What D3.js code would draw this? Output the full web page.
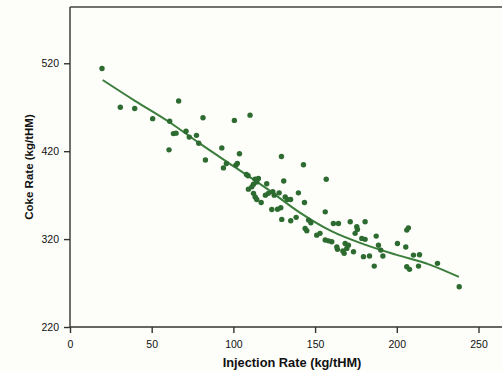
<!DOCTYPE html>
<html>
<head>
<meta charset="utf-8">
<script src="https://cdn.jsdelivr.net/npm/d3@7"></script>
<style>
  body { margin: 0; background: #fdfdf9; }
  svg { display: block; font-family: "Liberation Sans", Arial, sans-serif; }
</style>
</head>
<body>
<svg id="chart" width="502" height="371"></svg>
<script>
// injection rate (kg/tHM) of each measured point
const injection = [
  19.6, 30.8, 39.6, 50.6, 66.5, 61, 63.3, 64.9, 60.6, 71,
  73, 77.4, 78.8, 81.4, 82.9, 92.9, 93.9, 95.7, 100.6, 103.7,
  110.2, 101.5, 102.4, 108, 109, 129.4, 142.9, 156.8, 130.8, 120.4,
  113.3, 114.3, 115.3, 112.3, 111.3, 109.2, 139.8, 143.5, 112.3, 113.3,
  114.3, 117, 119.6, 121.4, 124.1, 125, 128, 131.7, 133, 135,
  123.5, 127, 129, 129.6, 135.1, 138.4, 146, 147.4, 143.9, 144.9,
  151, 153, 156.2, 161.2, 164.3, 156.2, 158.2, 160.2, 163.3, 163.7,
  171.5, 175.5, 175.9, 180.6, 174.5, 178.6, 180.6, 168.4, 170.4, 169.4,
  167, 167.8, 173.5, 179.6, 183.3, 186.2, 187.4, 188.8, 190.2, 191.5,
  200.4, 205.5, 206.1, 207.1, 210.2, 213.9, 206.1, 207.8, 213.3, 224.9,
  238.2
];
// coke rate (kg/tHM) of each measured point
const coke = [
  514, 470, 468.5, 457, 477, 454, 440, 440.5, 421.5, 442.7,
  436, 438, 429, 458, 410, 423.7, 401, 406, 455, 417,
  461, 404, 406, 393.5, 392, 414, 404.5, 388, 386, 383,
  388, 385, 389, 382.5, 379.4, 376.8, 372.6, 361.7, 372, 368,
  365, 361.7, 370, 372, 373.8, 370, 372.6, 368, 365, 365,
  353.6, 354, 355.7, 342.4, 340.8, 344.7, 341.6, 338.5, 332, 329.4,
  324.5, 326.5, 351, 337.8, 337.8, 318.9, 318, 317, 311, 308.3,
  339.7, 334, 331, 339.7, 326.5, 320.8, 319.7, 315, 313, 309.4,
  306.4, 303.8, 305.6, 300, 300.7, 289.3, 323.4, 313, 307.5, 300.7,
  315, 311, 330.2, 332.8, 301.8, 302.2, 288.5, 285.6, 289.3, 292.4,
  265.8
];
// fitted trend line
const fitX = [20, 40, 60, 80, 100, 120, 140, 160, 180, 200, 220, 238];
const fitY = [501, 477, 454, 428, 403, 378, 351, 329, 314, 302, 291, 277];

const xTicks = [0, 50, 100, 150, 200, 250];
const yTicks = [220, 320, 420, 520];

const svg = d3.select('#chart');
const mLeft = 70, mRight = 503, mTop = 7, mBottom = 327;

const x = d3.scaleLinear().domain([0, 265]).range([mLeft, mRight]);
const y = d3.scaleLinear().domain([220, 584]).range([mBottom, mTop]);

const points = injection.map((v, i) => ({x: v, y: coke[i]}));
const fit = fitX.map((v, i) => ({x: v, y: fitY[i]}));

// frame top
svg.append('line')
    .attr('x1', mLeft).attr('x2', 502)
    .attr('y1', mTop).attr('y2', mTop)
    .attr('stroke', '#444').attr('stroke-width', 1.5);

svg.append('g')
    .attr('transform', `translate(0,${mBottom})`)
    .call(d3.axisBottom(x).tickValues(xTicks).tickSize(6).tickPadding(8).tickSizeOuter(0))
    .call(g => g.select('.domain').attr('d', `M${mLeft},0H502`))
    .call(g => g.selectAll('path, line').attr('stroke', '#333').attr('stroke-width', 1.4))
    .call(g => g.selectAll('text').attr('font-size', 10.5).attr('fill', '#111')
      .attr('font-family', '"Liberation Sans", Arial, sans-serif'));

svg.append('g')
    .attr('transform', `translate(${mLeft},0)`)
    .call(d3.axisLeft(y).tickValues(yTicks).tickSize(6).tickPadding(5).tickSizeOuter(0))
    .call(g => g.select('.domain').attr('d', `M0,${mBottom}V${mTop}`))
    .call(g => g.selectAll('path, line').attr('stroke', '#333').attr('stroke-width', 1.4))
    .call(g => g.selectAll('text').attr('font-size', 10.5).attr('fill', '#111')
      .attr('font-family', '"Liberation Sans", Arial, sans-serif'));

svg.append('path')
    .datum(fit)
    .attr('fill', 'none')
    .attr('stroke', '#3b7d3c')
    .attr('stroke-width', 2)
    .attr('d', d3.line().x(d => x(d.x)).y(d => y(d.y)).curve(d3.curveMonotoneX));

svg.append('g')
  .selectAll('circle')
  .data(points)
  .join('circle')
    .attr('cx', d => x(d.x))
    .attr('cy', d => y(d.y))
    .attr('r', 2.7)
    .attr('fill', '#2d6b31');

svg.append('text')
    .attr('x', 292).attr('y', 367)
    .attr('text-anchor', 'middle')
    .attr('font-size', 12.8).attr('font-weight', 'bold').attr('fill', '#111')
    .text('Injection Rate (kg/tHM)');

svg.append('text')
    .attr('transform', 'translate(33,167) rotate(-90)')
    .attr('text-anchor', 'middle')
    .attr('font-size', 11.5).attr('font-weight', 'bold').attr('fill', '#111')
    .text('Coke Rate (kg/tHM)');
</script>
</body>
</html>
